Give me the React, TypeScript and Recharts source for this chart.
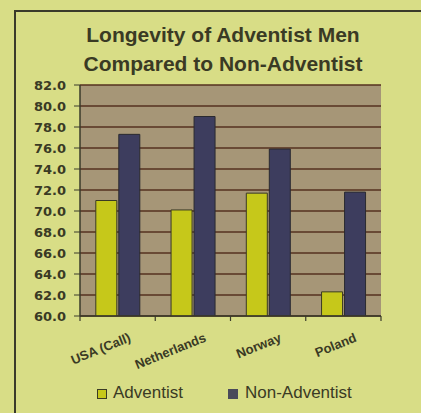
import React from "react";
import { BarChart, Bar, XAxis, YAxis, CartesianGrid } from "recharts";

const categories = ["USA (Call)", "Netherlands", "Norway", "Poland"];
const adventist = [71.0, 70.1, 71.7, 62.3];
const nonAdventist = [77.3, 79.0, 75.9, 71.8];
const yTicks = [60, 62, 64, 66, 68, 70, 72, 74, 76, 78, 80, 82];
const seriesNames = ["Adventist", "Non-Adventist"];

const data = categories.map((c, i) => ({
  name: c,
  Adventist: adventist[i],
  "Non-Adventist": nonAdventist[i],
}));

const FONT = "'Liberation Sans', Arial, sans-serif";
const BG = "#d8dd86";
const TEXT = "#3a3a24";
const YELLOW = "#c6c81a";
const NAVY = "#3d3d5e";
const AXIS = "#3a3a2a";

const XTick = (props: any) => {
  const { x, y, payload, index, visibleTicksCount } = props;
  const half = (421 - 40 - 80) / categories.length / 2;
  const axisY = y - 8;
  const ax = x + 14;
  const ay = y + 17;
  const last = index === (visibleTicksCount ?? categories.length) - 1;
  return (
    <g>
      <line x1={x - half} y1={axisY} x2={x - half} y2={axisY + 5} stroke={AXIS} strokeWidth={1.2} />
      {last && <line x1={x + half} y1={axisY} x2={x + half} y2={axisY + 5} stroke={AXIS} strokeWidth={1.2} />}
      <text
        x={ax}
        y={ay}
        transform={`rotate(-22, ${ax}, ${ay})`}
        textAnchor="end"
        fontFamily={FONT}
        fontWeight="bold"
        fontSize={13}
        fill={TEXT}
      >
        {payload.value}
      </text>
    </g>
  );
};

export default function App() {
  return (
    <div style={{ position: "absolute", left: 0, top: 0, width: 421, height: 413, background: BG, overflow: "hidden" }}>
      <div style={{ position: "absolute", left: 14, top: 10, width: 420, height: 420, borderLeft: "2.5px solid #3a3a2a", borderTop: "2.5px solid #3a3a2a" }} />
      <div
        style={{
          position: "absolute",
          left: 14,
          width: 418,
          top: 20,
          textAlign: "center",
          fontFamily: FONT,
          fontWeight: "bold",
          fontSize: 21,
          lineHeight: "29px",
          color: TEXT,
        }}
      >
        Longevity of Adventist Men
        <br />
        Compared to Non-Adventist
      </div>
      <div style={{ position: "absolute", left: 0, top: 0 }}>
        <BarChart
          width={421}
          height={413}
          data={data}
          margin={{ top: 85, right: 40, bottom: 37, left: 0 }}
          barCategoryGap="21%"
          barGap={2}
        >
          <CartesianGrid vertical={false} fill="#a69677" stroke="#55301f" strokeWidth={1.3} fillOpacity={1} />
          <XAxis
            dataKey="name"
            tick={<XTick />}
            tickLine={false}
            axisLine={{ stroke: AXIS, strokeWidth: 1.5 }}
            interval={0}
            height={60}
          />
          <YAxis
            width={80}
            domain={[60, 82]}
            ticks={yTicks}
            interval={0}
            tickFormatter={(v: number) => v.toFixed(1)}
            tick={{ fontFamily: "'DejaVu Sans', sans-serif", fontWeight: "bold", fontSize: 13, fill: TEXT }}
            tickSize={6}
            tickMargin={8}
            tickLine={{ stroke: AXIS }}
            axisLine={{ stroke: AXIS, strokeWidth: 1.5 }}
            allowDataOverflow
          />
          <Bar dataKey="Adventist" fill={YELLOW} stroke="#3a3a24" strokeWidth={1} isAnimationActive={false} />
          <Bar dataKey="Non-Adventist" fill={NAVY} stroke="#2a2a30" strokeWidth={1} isAnimationActive={false} />
        </BarChart>
      </div>
      <div style={{ position: "absolute", left: 97, top: 389, width: 8, height: 8, background: YELLOW, border: "1.5px solid #3a3a24" }} />
      <div style={{ position: "absolute", left: 113, top: 383, fontFamily: FONT, fontSize: 17, color: TEXT, lineHeight: "20px" }}>
        {seriesNames[0]}
      </div>
      <div style={{ position: "absolute", left: 228, top: 389, width: 10, height: 10, background: "#4a4a5a" }} />
      <div style={{ position: "absolute", left: 245, top: 383, fontFamily: FONT, fontSize: 17, color: TEXT, lineHeight: "20px" }}>
        {seriesNames[1]}
      </div>
    </div>
  );
}
